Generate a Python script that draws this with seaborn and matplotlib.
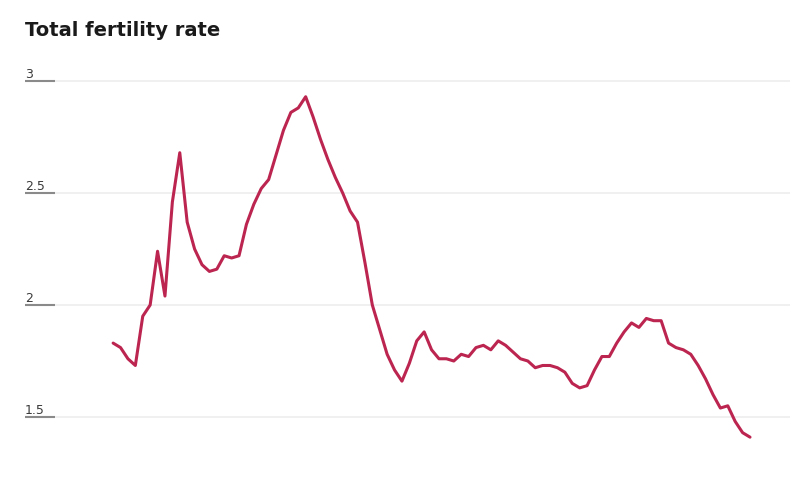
import matplotlib
matplotlib.use("Agg")
import matplotlib.pyplot as plt
import seaborn as sns
import pandas as pd

# Total fertility rate by year
years = list(range(1938, 2025))
tfr = [
    1.83, 1.81, 1.76, 1.73, 1.95, 2.00, 2.24, 2.04, 2.46, 2.68,
    2.37, 2.25, 2.18, 2.15, 2.16, 2.22, 2.21, 2.22, 2.36, 2.45,
    2.52, 2.56, 2.67, 2.78, 2.86, 2.88, 2.93, 2.84, 2.74, 2.65,
    2.57, 2.50, 2.42, 2.37, 2.19, 2.00, 1.89, 1.78, 1.71, 1.66,
    1.74, 1.84, 1.88, 1.80, 1.76, 1.76, 1.75, 1.78, 1.77, 1.81,
    1.82, 1.80, 1.84, 1.82, 1.79, 1.76, 1.75, 1.72, 1.73, 1.73,
    1.72, 1.70, 1.65, 1.63, 1.64, 1.71, 1.77, 1.77, 1.83, 1.88,
    1.92, 1.90, 1.94, 1.93, 1.93, 1.83, 1.81, 1.80, 1.78, 1.73,
    1.67, 1.60, 1.54, 1.55, 1.48, 1.43, 1.41,
]
ytick_values = [1.5, 2, 2.5, 3]
ytick_labels = ["1.5", "2", "2.5", "3"]
title = "Total fertility rate"

df = pd.DataFrame({"year": years, "tfr": tfr})

sns.set_theme(style="white")
plt.rcParams["font.family"] = ["DejaVu Sans"]

fig = plt.figure(figsize=(8, 4.8), dpi=100)
ax = fig.add_axes([25 / 800, 1 - 460 / 480, 765 / 800, 385 / 480])

line_color = "#bb2550"
sns.lineplot(data=df, x="year", y="tfr", ax=ax, color=line_color,
             linewidth=2.2, solid_joinstyle="round", solid_capstyle="round")

ax.set_xlim(1926.1, 2029.4)
ax.set_ylim(1.308, 3.027)

# light gridlines with a darker short stub at the left
for v, lab in zip(ytick_values, ytick_labels):
    ax.axhline(v, color="#f0f0f0", linewidth=1.4, zorder=0)
    ax.plot([0, 30 / 765], [v, v], transform=ax.get_yaxis_transform(),
            color="#8a8a8a", linewidth=1.5, solid_capstyle="butt", zorder=1)
    ax.text(0, v, lab, transform=ax.get_yaxis_transform(),
            ha="left", va="bottom", fontsize=9, color="#3a3a3a")

ax.set_xticks([])
ax.set_yticks([])
ax.set_xlabel("")
ax.set_ylabel("")
for s in ax.spines.values():
    s.set_visible(False)

fig.text(25 / 800, 1 - 36 / 480, title, ha="left", va="baseline",
         fontsize=14, fontweight="bold", color="#1a1a1a")

fig.savefig("out.png", dpi=100)
